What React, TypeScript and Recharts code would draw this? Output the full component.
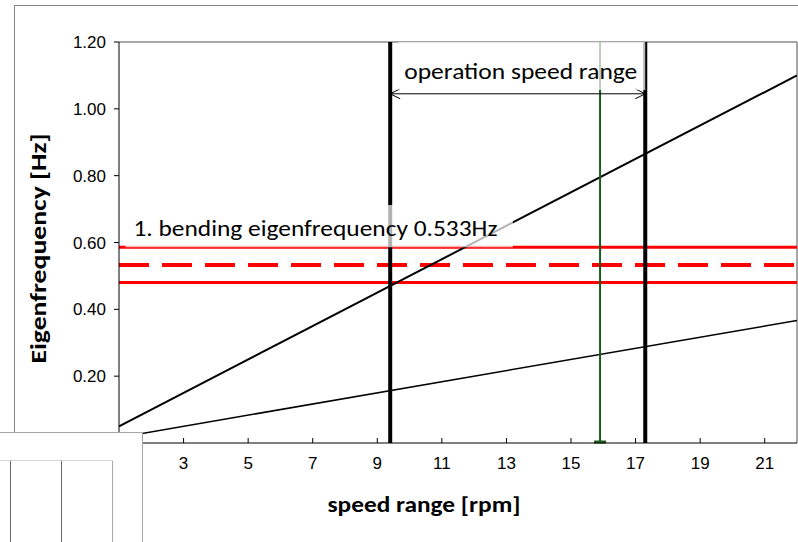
import { ComposedChart, Line, XAxis, YAxis, ReferenceLine, ReferenceArea } from 'recharts';

// rotor speed [rpm] and excitation frequencies [Hz]
const speeds = [1, 22];
const freq1P = [0.0167, 0.3667];
const freq3P = [0.05, 1.1];

const bendingFreq = 0.533;
const bendingBand = [0.48, 0.586]; // +/- 10%
const operationRange = [9.4, 17.3];
const ratedSpeed = 15.9;
const arrowLevel = 1.045;

const xTicks = [3, 5, 7, 9, 11, 13, 15, 17, 19, 21];
const yTicks = [0, 0.2, 0.4, 0.6, 0.8, 1.0, 1.2];

const data = speeds.map((s, i) => ({ rpm: s, p1: freq1P[i], p3: freq3P[i] }));

const tickFont = '"Liberation Sans", Arial, sans-serif';
const labelFont = 'Carlito, Lato, "Open Sans", sans-serif';

function XTick({ x, y, payload }: any) {
    return (
        <g>
            <line x1={x} x2={x} y1={y - 5} y2={y} stroke="#000" strokeWidth={1} />
            <text x={x} y={y + 26} textAnchor="middle" fontFamily={tickFont} fontSize={17} fill="#000">
                {payload.value}
            </text>
        </g>
    );
}

function GreenLine(p: any) {
    const bottom = Math.max(p.y1, p.y2);
    return (
        <g>
            <line x1={p.x1} x2={p.x2} y1={p.y1} y2={p.y2} stroke="#1d5a1d" strokeWidth={2} />
            <line x1={p.x1 - 6} x2={p.x1 + 6} y1={bottom - 1} y2={bottom - 1} stroke="#1d5a1d" strokeWidth={3} />
        </g>
    );
}

function DoubleArrow(p: any) {
    const { x1, x2, y1 } = p;
    const a = 10;
    return (
        <g stroke="#000" strokeWidth={1} fill="none">
            <line x1={x1} x2={x2} y1={y1} y2={y1} />
            <polyline points={`${x1 + a},${y1 - 5} ${x1},${y1} ${x1 + a},${y1 + 5}`} />
            <polyline points={`${x2 - a},${y1 - 5} ${x2},${y1} ${x2 - a},${y1 + 5}`} />
        </g>
    );
}

export default function App() {
    return (
        <div style={{ position: 'relative', width: 798, height: 542, background: '#fff', overflow: 'hidden' }}>
            <style>{'body{margin:0}'}</style>
            <div style={{ position: 'absolute', left: 14, top: 5, width: 800, height: 600, borderTop: '1.5px solid #858585', borderLeft: '1.5px solid #858585' }} />
            <div style={{ position: 'absolute', left: 0, top: 0 }}>
                <ComposedChart width={798} height={542} data={data} margin={{ top: 42, right: 1, left: 0, bottom: 0 }}>
                    <XAxis
                        type="number"
                        dataKey="rpm"
                        domain={[1, 22]}
                        ticks={xTicks}
                        allowDataOverflow
                        height={99}
                        stroke="#000"
                        tickSize={0}
                        tickMargin={0}
                        tickLine={false}
                        tick={<XTick />}
                        label={(props: any) => {
                            const vb = props.viewBox;
                            return (
                                <text x={vb.x + 305} y={vb.y + 69} textAnchor="middle" fontFamily={labelFont} fontWeight="bold" fontSize={22} fill="#000" textLength={193} lengthAdjust="spacingAndGlyphs">
                                    speed range [rpm]
                                </text>
                            );
                        }}
                    />
                    <YAxis
                        type="number"
                        domain={[0, 1.2]}
                        ticks={yTicks}
                        allowDataOverflow
                        width={119}
                        stroke="#000"
                        tickSize={5}
                        tickMargin={8}
                        tick={{ fill: '#000', fontSize: 17, fontFamily: tickFont }}
                        tickFormatter={(v: number) => v.toFixed(2)}
                        label={(props: any) => {
                            const vb = props.viewBox;
                            const cx = 46;
                            const cy = vb.y + vb.height / 2 + 6;
                            return (
                                <text x={cx} y={cy} transform={`rotate(-90 ${cx} ${cy})`} textAnchor="middle" fontFamily={labelFont} fontWeight="bold" fontSize={22} fill="#000" textLength={230} lengthAdjust="spacingAndGlyphs">
                                    Eigenfrequency [Hz]
                                </text>
                            );
                        }}
                    />

                    {/* plot frame top / right */}
                    <ReferenceLine y={1.2} stroke="#8a8a8a" strokeWidth={1.5} />
                    <ReferenceLine x={22} stroke="#8a8a8a" strokeWidth={1.5} />

                    <ReferenceLine y={bendingBand[1]} stroke="#ff0000" strokeWidth={3} />
                    <ReferenceLine y={bendingFreq} stroke="#ff0000" strokeWidth={4} strokeDasharray="30 13" />
                    <ReferenceLine y={bendingBand[0]} stroke="#ff0000" strokeWidth={3} />

                    <Line type="linear" dataKey="p3" stroke="#000" strokeWidth={2} dot={false} isAnimationActive={false} />
                    <Line type="linear" dataKey="p1" stroke="#000" strokeWidth={1.5} dot={false} isAnimationActive={false} />

                    <ReferenceLine x={ratedSpeed} shape={GreenLine} />
                    <ReferenceLine x={operationRange[0]} stroke="#000" strokeWidth={4} />
                    <ReferenceLine x={operationRange[1]} stroke="#000" strokeWidth={4} />

                    <ReferenceLine
                        segment={[{ x: operationRange[0], y: arrowLevel }, { x: operationRange[1], y: arrowLevel }]}
                        shape={DoubleArrow}
                    />

                    <ReferenceArea
                        x1={9.65}
                        x2={operationRange[1]}
                        y1={1.056}
                        y2={1.2}
                        fill="#fff"
                        fillOpacity={0.7}
                        stroke="none"
                        zIndex={450}
                        label={(props: any) => {
                            const vb = props.viewBox;
                            return (
                                <text x={vb.x + vb.width / 2 - 1} y={vb.y + 37} textAnchor="middle" fontFamily={labelFont} fontSize={23} fill="#000" textLength={233} lengthAdjust="spacingAndGlyphs">
                                    operation speed range
                                </text>
                            );
                        }}
                    />
                    <ReferenceArea
                        x1={1.2}
                        x2={13.2}
                        y1={bendingBand[1]}
                        y2={0.712}
                        fill="#fff"
                        fillOpacity={0.7}
                        stroke="none"
                        zIndex={450}
                        label={(props: any) => {
                            const vb = props.viewBox;
                            return (
                                <text x={vb.x + 8} y={vb.y + 31} fontFamily={labelFont} fontSize={23} fill="#000" textLength={364} lengthAdjust="spacingAndGlyphs">
                                    1. bending eigenfrequency 0.533Hz
                                </text>
                            );
                        }}
                    />
                </ComposedChart>
            </div>
            {/* spreadsheet cells covering the lower left corner */}
            <div style={{ position: 'absolute', left: 0, top: 432, width: 143, height: 110, background: '#fff', borderTop: '1px solid #a6a6a6', borderRight: '1px solid #a6a6a6', boxSizing: 'border-box' }}>
                <div style={{ position: 'absolute', left: 0, top: 27, width: 113, height: 1, background: '#d4d4d4' }} />
                <div style={{ position: 'absolute', left: 10, top: 28, width: 1, height: 90, background: '#6e6e6e' }} />
                <div style={{ position: 'absolute', left: 61, top: 28, width: 1, height: 90, background: '#6e6e6e' }} />
                <div style={{ position: 'absolute', left: 112, top: 28, width: 1, height: 90, background: '#a8a8a8' }} />
            </div>
        </div>
    );
}
